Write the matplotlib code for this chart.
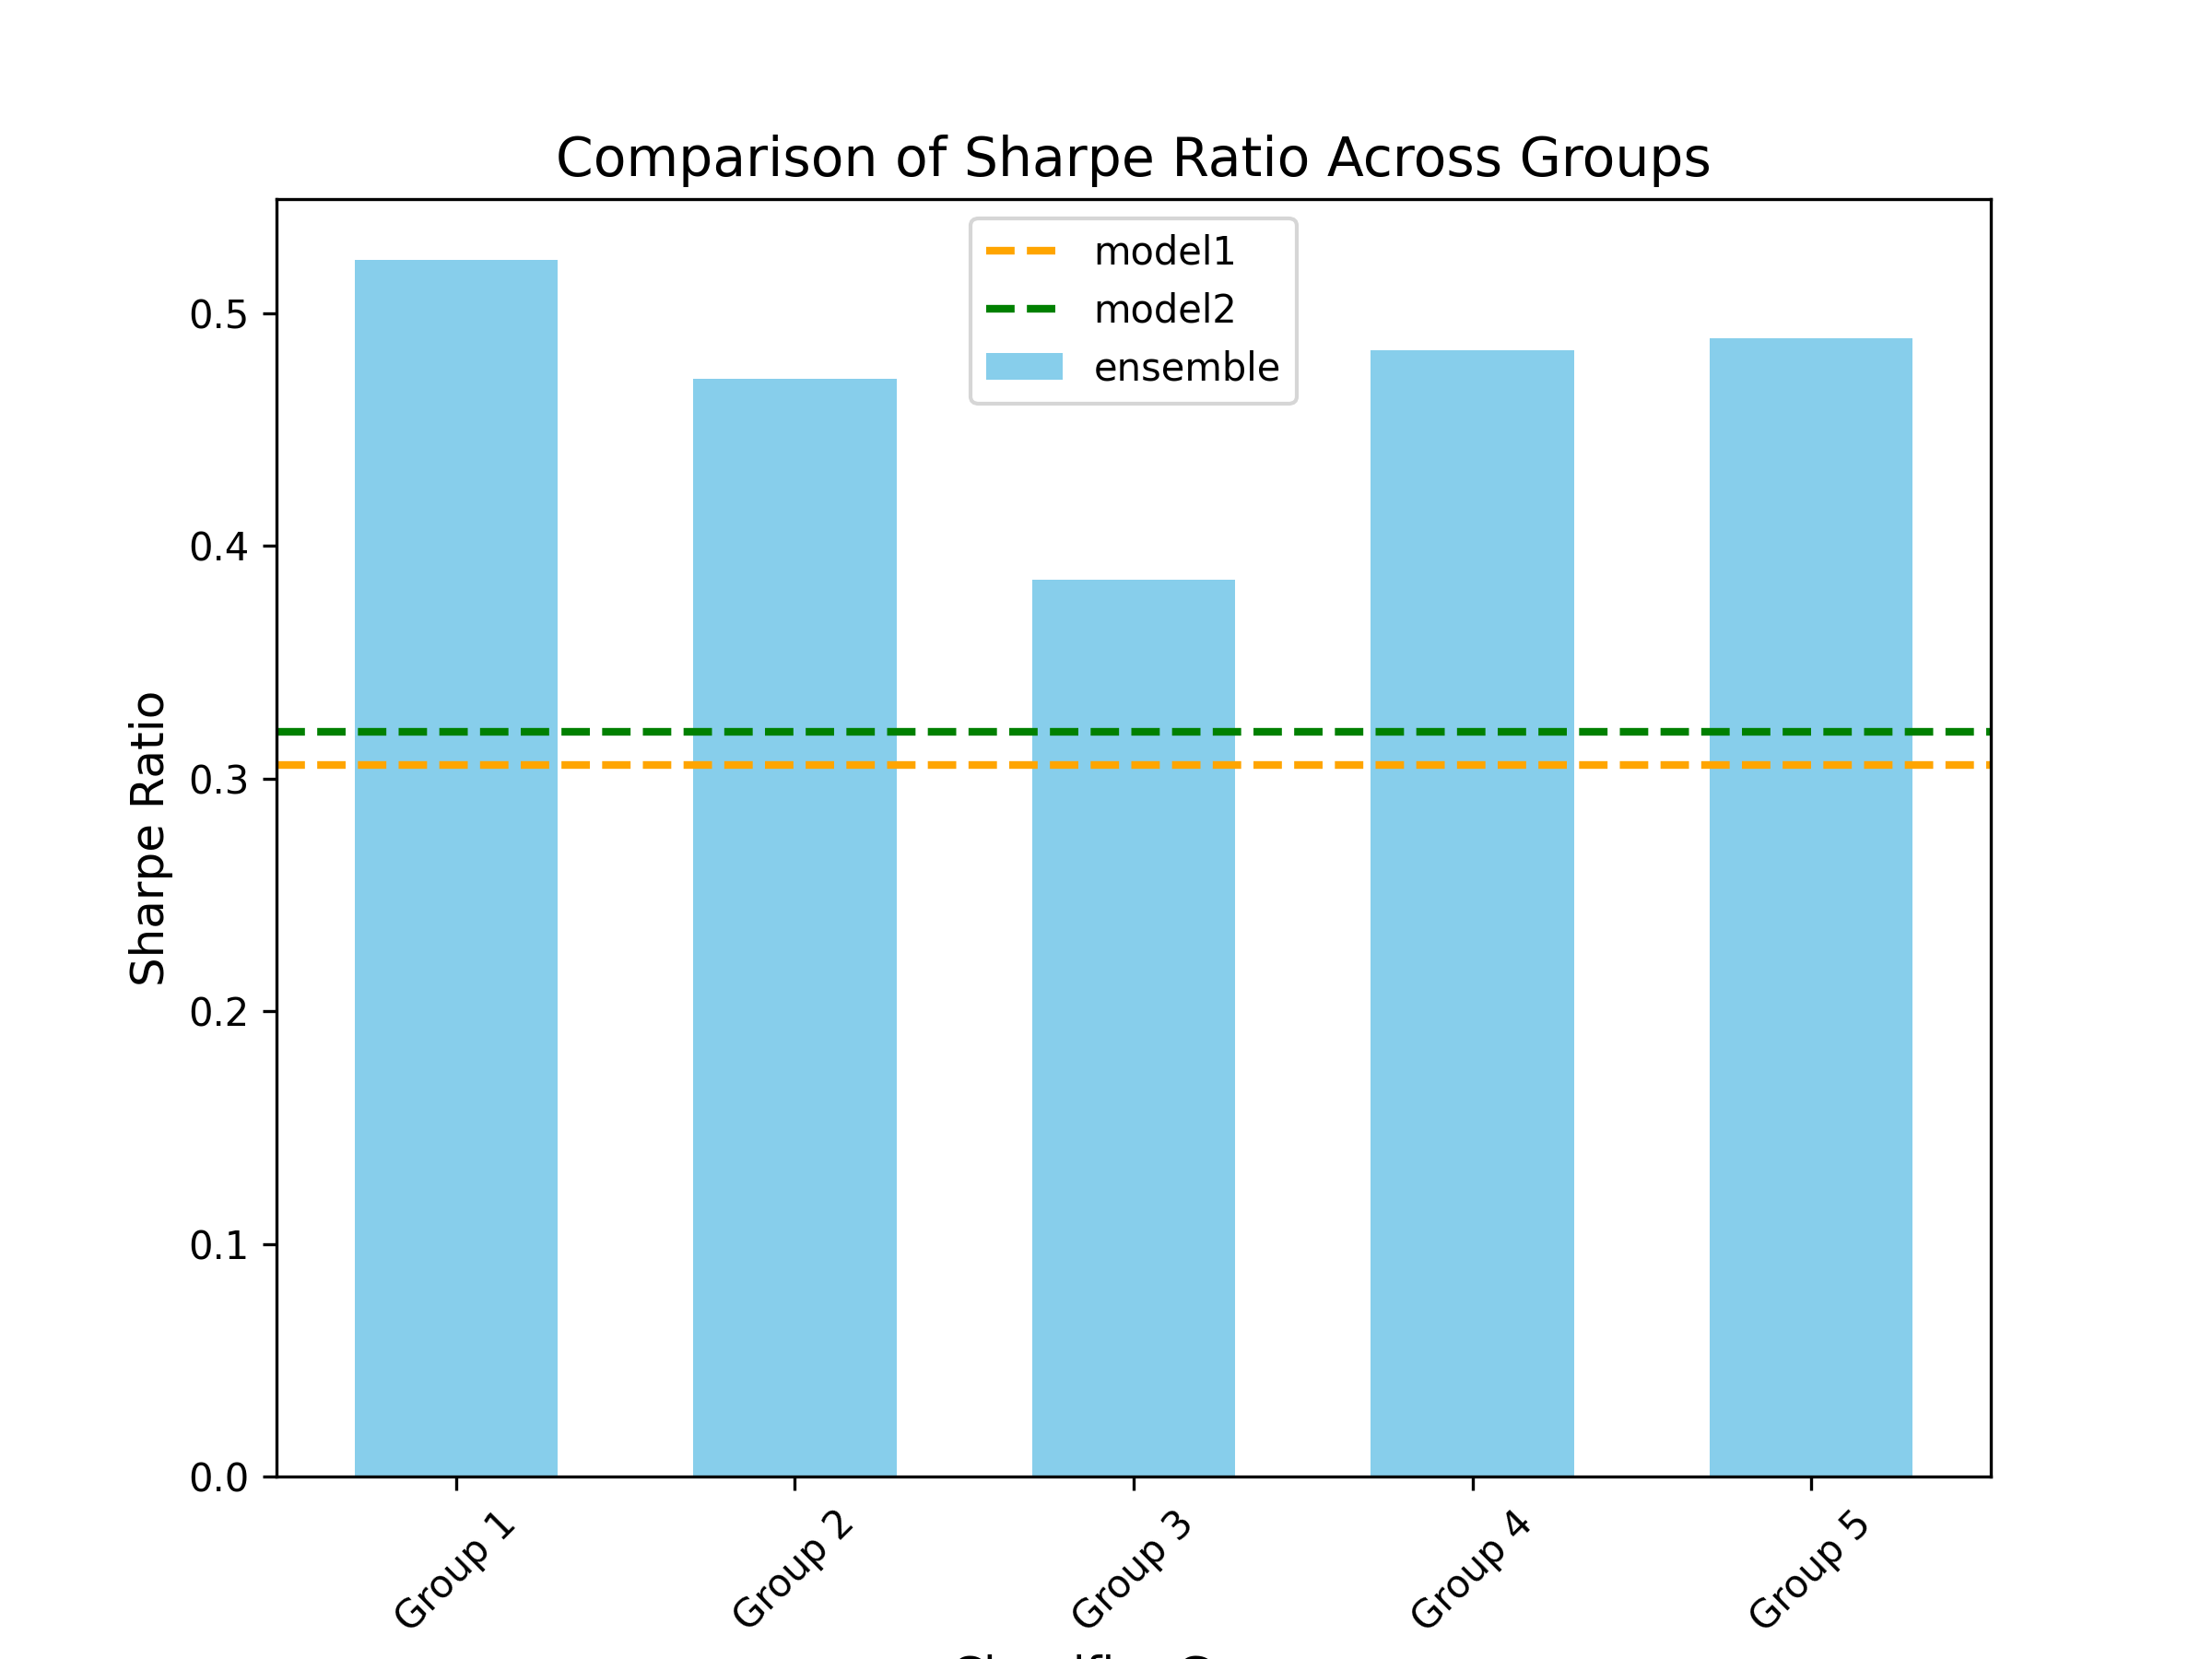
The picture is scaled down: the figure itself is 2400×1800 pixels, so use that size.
import matplotlib
matplotlib.use("Agg")
import matplotlib.pyplot as plt

groups = ["Group 1", "Group 2", "Group 3", "Group 4", "Group 5"]
ensemble = [0.523, 0.472, 0.3855, 0.484, 0.4895]
model1 = 0.306
model2 = 0.320


def main():
    fig, ax = plt.subplots(figsize=(8, 6))
    ax.axhline(model1, color="orange", linestyle="--", linewidth=2, label="model1")
    ax.axhline(model2, color="green", linestyle="--", linewidth=2, label="model2")
    ax.bar(groups, ensemble, width=0.6, color="skyblue", label="ensemble")
    ax.set_title("Comparison of Sharpe Ratio Across Groups", fontsize=14)
    ax.set_xlabel("Classifier Group", fontsize=12)
    ax.set_ylabel("Sharpe Ratio", fontsize=12)
    plt.xticks(rotation=45)
    ax.legend(loc="upper center")
    fig.savefig("out.png", dpi=300)


if __name__ == "__main__":
    main()
